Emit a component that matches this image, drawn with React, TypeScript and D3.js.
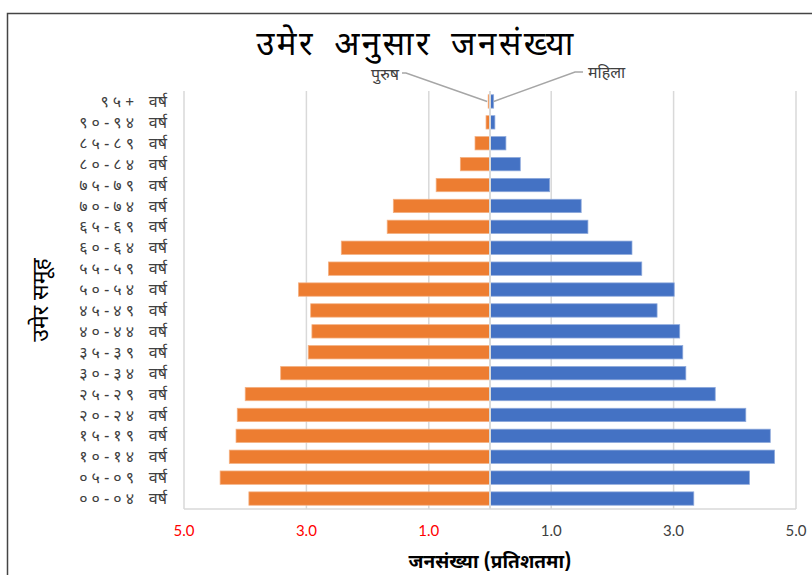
import React from "react";
import * as d3 from "d3";

const ageDigits = [
  "००-०४", "०५-०९", "१०-१४", "१५-१९", "२०-२४",
  "२५-२९", "३०-३४", "३५-३९", "४०-४४", "४५-४९",
  "५०-५४", "५५-५९", "६०-६४", "६५-६९", "७०-७४",
  "७५-७९", "८०-८४", "८५-८९", "९०-९४", "९५+",
];
const yearWord = "वर्ष";
const maleValues = [3.94, 4.41, 4.26, 4.15, 4.13, 4.0, 3.42, 2.97, 2.91, 2.93, 3.13, 2.64, 2.43, 1.68, 1.58, 0.88, 0.485, 0.245, 0.065, 0.03];
const femaleValues = [3.33, 4.24, 4.65, 4.58, 4.18, 3.68, 3.2, 3.15, 3.1, 2.73, 3.01, 2.48, 2.32, 1.6, 1.49, 0.975, 0.495, 0.26, 0.08, 0.06];
const tickValues = [-5, -3, -1, 1, 3, 5];
const gridValues = [-5, -3, -1, 1, 3, 5];
const title = "उमेर अनुसार जनसंख्या";
const xTitle = "जनसंख्या (प्रतिशतमा)";
const yTitle = "उमेर समूह";
const maleName = "पुरुष";
const femaleName = "महिला";

const W = 812;
const H = 575;
const plot = { left: 184, right: 796, top: 91, bottom: 509 };
const devFont = "'Noto Sans Devanagari', 'Lohit Devanagari', 'Noto Sans', 'DejaVu Sans', sans-serif";
const numFont = "Lato, 'Open Sans', 'Liberation Sans', sans-serif";

export default function App() {
  const x = d3.scaleLinear().domain([-5, 5]).range([plot.left, plot.right]);
  const y = d3
    .scaleBand<string>()
    .domain(ageDigits)
    .range([plot.bottom, plot.top])
    .paddingInner(0.36)
    .paddingOuter(0.18);
  const bw = y.bandwidth();
  const topCat = ageDigits[ageDigits.length - 1];
  const topY = (y(topCat) as number) + bw / 2;
  const mTop = maleValues[maleValues.length - 1];
  const fTop = femaleValues[femaleValues.length - 1];

  return (
    <svg
      width={W}
      height={H}
      style={{ position: "absolute", left: 0, top: 0, background: "#fff" }}
    >
      <rect x={0} y={0} width={W} height={H} fill="#fff" />
      <rect x={7.5} y={13.5} width={W + 20} height={H + 20} fill="none" stroke="#444" strokeWidth={1.5} />

      {gridValues.map((v) => (
        <line key={"g" + v} x1={x(v)} x2={x(v)} y1={plot.top} y2={plot.bottom} stroke="#d9d9d9" strokeWidth={1.5} />
      ))}
      <line x1={plot.left} x2={plot.right} y1={plot.bottom} y2={plot.bottom} stroke="#d9d9d9" strokeWidth={1.5} />

      {ageDigits.map((g, i) => (
        <g key={g}>
          <rect
            x={x(-maleValues[i])}
            y={y(g)}
            width={x(0) - x(-maleValues[i])}
            height={bw}
            fill="#ED7D31"
            stroke="#f4b183"
            strokeWidth={0.75}
          />
          <rect
            x={x(0)}
            y={y(g)}
            width={x(femaleValues[i]) - x(0)}
            height={bw}
            fill="#4472C4"
            stroke="#8faadc"
            strokeWidth={0.75}
          />
        </g>
      ))}
      <line x1={x(0)} x2={x(0)} y1={plot.top} y2={plot.bottom} stroke="#d9d9d9" strokeWidth={2} />

      {ageDigits.map((g) => {
        const cy = (y(g) as number) + bw / 2;
        return (
          <g key={"l" + g} fontFamily={devFont} fontSize={16} fill="#404040">
            <text x={138} y={cy} dy="0.35em" textAnchor="end" letterSpacing={4}>
              {g}
            </text>
            <text x={167} y={cy} dy="0.35em" textAnchor="end">
              {yearWord}
            </text>
          </g>
        );
      })}

      {tickValues.map((v) => (
        <text
          key={"t" + v}
          x={x(v)}
          y={536}
          textAnchor="middle"
          fontFamily={numFont}
          fontSize={15}
          fill={v < 0 ? "#ff0000" : "#404040"}
        >
          {Math.abs(v).toFixed(1)}
        </text>
      ))}

      <text x={416} y={55} textAnchor="middle" fontFamily={devFont} fontSize={33} fill="#000" letterSpacing={2.5} wordSpacing={8}>
        {title}
      </text>

      <text x={x(0)} y={568} textAnchor="middle" fontFamily={devFont} fontSize={19} fontWeight="bold" fill="#000">
        {xTitle}
      </text>

      <text
        transform={`translate(48, ${(plot.top + plot.bottom) / 2}) rotate(-90)`}
        textAnchor="middle"
        fontFamily={devFont}
        fontSize={23}
        fill="#000"
      >
        {yTitle}
      </text>

      <polyline
        points={`${x(-mTop) - 1},${topY} 406,73 402,73`}
        fill="none"
        stroke="#a6a6a6"
        strokeWidth={1.5}
      />
      <text x={399} y={80} textAnchor="end" fontFamily={devFont} fontSize={16} fill="#404040">
        {maleName}
      </text>
      <polyline
        points={`${x(fTop)},${topY} 575,72 583,72`}
        fill="none"
        stroke="#a6a6a6"
        strokeWidth={1.5}
      />
      <text x={588} y={78} textAnchor="start" fontFamily={devFont} fontSize={16} fill="#404040">
        {femaleName}
      </text>
    </svg>
  );
}
